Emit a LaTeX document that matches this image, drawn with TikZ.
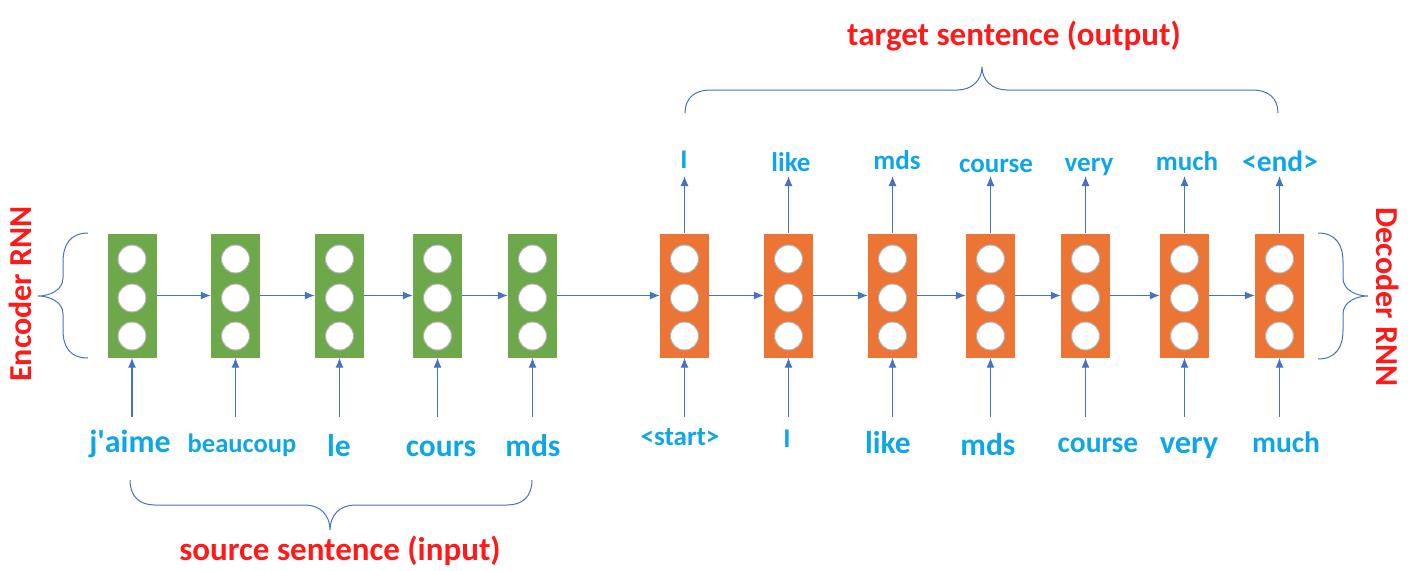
\documentclass[tikz,border=0pt]{standalone}
\usepackage{fontspec}
\setmainfont{Carlito}
\usetikzlibrary{arrows.meta}

\definecolor{encgreen}{HTML}{6DA84A}
\definecolor{decorange}{HTML}{EC7535}
\definecolor{linkblue}{HTML}{4472C4}
\definecolor{wordblue}{HTML}{0FA6E8}
\definecolor{titlered}{HTML}{FF1A1A}

\tikzset{
  cell/.style={rectangle, minimum width=49pt, minimum height=124pt, inner sep=0pt},
  unit/.style={circle, fill=white, draw=gray!60, line width=1pt, minimum size=28pt, inner sep=0pt},
  link/.style={draw=linkblue, line width=1.2pt, -{Latex[length=10pt,width=8pt]}},
  brace/.style={draw=linkblue, line width=1pt},
  word/.style={text=wordblue, anchor=base, inner sep=0pt},
  title/.style={text=titlered, inner sep=0pt, font=\bfseries\fontsize{33}{38}\selectfont}
}

\begin{document}
\begin{tikzpicture}[x=1pt,y=-1pt]
    \useasboundingbox (0,0) rectangle (1412,570);

      % Encoder cells
      \foreach \i/\x in {1/132,2/235.5,3/339.5,4/437.5,5/532.5}{
        \node[cell, fill=encgreen] (e\i) at (\x,295.5) {};
        \foreach \k/\y in {1/259,2/298,3/336}
          \node[unit] (e\i-\k) at (\x,\y) {};
        \coordinate (ein\i) at (\x,417);
        \draw[link] (ein\i) -- (e\i.south);
      }
      \foreach \i/\j in {1/2,2/3,3/4,4/5}
        \draw[link] (e\i.east) -- (e\j.west);

      % Decoder cells
      \foreach \i/\x in {1/684.5,2/788.5,3/892.5,4/990.5,5/1085.5,6/1184.5,7/1279.5}{
        \node[cell, fill=decorange] (d\i) at (\x,295.5) {};
        \foreach \k/\y in {1/259,2/298,3/336}
          \node[unit] (d\i-\k) at (\x,\y) {};
        \coordinate (din\i) at (\x,417);
        \coordinate (dout\i) at (\x,176);
        \draw[link] (din\i) -- (d\i.south);
        \draw[link] (d\i.north) -- (dout\i);
      }
      \foreach \i/\j in {1/2,2/3,3/4,4/5,5/6,6/7}
        \draw[link] (d\i.east) -- (d\j.west);

      % Context passed from encoder to decoder
      \draw[link] (e5.east) -- (d1.west);

      % Input words
      \foreach \n/\x/\b/\s/\t in {
          w1/130/452/32/j\textquotesingle aime, w2/242/452/26.5/beaucoup,
          w3/339/456/31.5/le, w4/441/456/31.5/cours, w5/533/456/31.5/mds,
          w6/680/445/27/<start>, w7/787/447/27/I, w8/888/453/31.5/like,
          w9/988/455/31.5/mds, w10/1098/452/29.5/course, w11/1189/453/32.5/very,
          w12/1286/452/29.5/much}
        \node[word, font=\bfseries\fontsize{\s}{\s}\selectfont] (\n) at (\x,\b) {\t};

      % Output words
      \foreach \n/\x/\b/\s/\t in {
          o1/684/168/27/I, o2/791/171/27/like, o3/897/169/27/mds,
          o4/996/172/27/course, o5/1089/171/27/very, o6/1187/170/27/much,
          o7/1280/171/29.5/<end>}
        \node[word, font=\bfseries\fontsize{\s}{\s}\selectfont] (\n) at (\x,\b) {\t};

      % Encoder brace
      \draw[brace] (88,233) .. controls (70,233) and (63,245) .. (63,262) -- (63,278)
        .. controls (63,290) and (50,296) .. (38,296)
        .. controls (50,296) and (63,302) .. (63,314) -- (63,330)
        .. controls (63,347) and (70,358) .. (88,358);
      \node[title, font=\bfseries\fontsize{32}{36}\selectfont, rotate=90] (enc) at (20,294) {Encoder RNN};

      % Decoder brace
      \draw[brace] (1318,233) .. controls (1336,233) and (1343,245) .. (1343,262) -- (1343,278)
        .. controls (1343,290) and (1356,296) .. (1368,296)
        .. controls (1356,296) and (1343,302) .. (1343,314) -- (1343,330)
        .. controls (1343,347) and (1336,359) .. (1318,359);
      \node[title, font=\bfseries\fontsize{32}{36}\selectfont, rotate=-90] (dec) at (1388,297) {Decoder RNN};

      % Source brace
      \draw[brace] (130,480) .. controls (130,497) and (140,505) .. (155,505) -- (305,505)
        .. controls (320,505) and (330,515) .. (330,530)
        .. controls (330,515) and (340,505) .. (355,505) -- (507,505)
        .. controls (522,505) and (532,497) .. (532,480);
      \node[title, anchor=base] (src) at (340,560) {source sentence (input)};

      % Target brace
      \draw[brace] (685,113) .. controls (685,98) and (695,90) .. (710,90) -- (957,90)
        .. controls (972,90) and (982,80) .. (982,67)
        .. controls (982,80) and (992,90) .. (1007,90) -- (1253,90)
        .. controls (1268,90) and (1278,98) .. (1278,113);
      \node[title, anchor=base] (tgt) at (1014,45) {target sentence (output)};
    \end{tikzpicture}
\end{document}
